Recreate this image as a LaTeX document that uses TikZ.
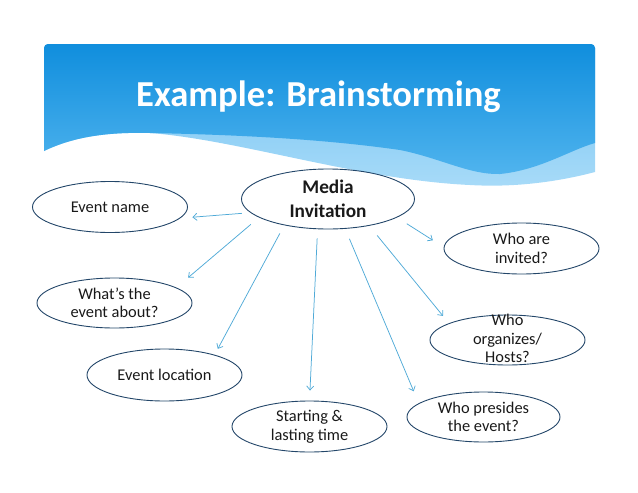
\documentclass[tikz,border=0pt]{standalone}
\usepackage{fontspec}
\setmainfont{Carlito}
\usetikzlibrary{arrows.meta, shapes.geometric}

\definecolor{rimblue}{RGB}{35,70,105}
\definecolor{linkblue}{RGB}{80,170,215}
\definecolor{bandtop}{RGB}{16,142,221}
\definecolor{bandbot}{RGB}{80,180,238}
\definecolor{paletop}{RGB}{110,192,242}
\definecolor{palebot}{RGB}{168,219,248}

\begin{document}
\begin{tikzpicture}[
    x=1pt, y=-1pt,
    bubble/.style={draw=rimblue, line width=0.9pt, ellipse, inner sep=0pt,
                   minimum width=155pt, minimum height=51pt, align=center,
                   text=black!90, font=\fontsize{16.4}{18.5}\selectfont},
    hub/.style={bubble, minimum width=173pt, minimum height=60pt,
                font=\fontsize{19.3}{24}\selectfont\bfseries},
    arr/.style={-{Straight Barb[length=4pt, width=7pt]}, line width=0.75pt, color=linkblue},
    heading/.style={text=white, anchor=base, font=\fontsize{36.6}{44}\selectfont\bfseries},
]
\useasboundingbox (0,0) rectangle (638,493);

% Banner with wave
\shade[top color=paletop, bottom color=palebot] (44,151) .. controls (75,136) and (110,132) .. (150,133)
    .. controls (240,140) and (360,180) .. (470,185)
    .. controls (520,188) and (565,180) .. (595,172)
    [rounded corners=4pt] -- (595,44) -- (44,44) [sharp corners] -- cycle;
\shade[top color=bandtop, bottom color=bandbot] (44,151) .. controls (75,136) and (110,132) .. (150,133)
    .. controls (250,135) and (330,140) .. (400,150)
    .. controls (440,158) and (470,175) .. (500,174)
    .. controls (540,170) and (570,150) .. (595,143)
    [rounded corners=4pt] -- (595,44) -- (44,44) [sharp corners] -- cycle;
\node[heading] (title) at (318.5,106.5) {Example: Brainstorming};

% Centre
\node[hub] (media) at (328,199) {Media\\Invitation};

% Left side
\node[bubble] (ename) at (110,207) {Event name};
\node[bubble, minimum height=50pt] (about) at (114.5,303) {What’s the\\event about?};
\node[bubble, minimum height=52pt] (place) at (164.5,375) {Event location};
\node[bubble] (timing) at (309.5,426.5) {Starting \&\\lasting time};

% Right side
\node[bubble] (invited) at (521.5,248.5) {Who are\\invited?};
\node[bubble, minimum height=50pt] (hosts) at (507.5,340) {\raisebox{-5pt}[0pt][0pt]{\begin{tabular}{@{}c@{}}Who\\organizes/\\Hosts?\end{tabular}}};
\node[bubble, minimum width=153pt, minimum height=50pt] (presides) at (483.5,417) {Who presides\\the event?};

% Links
\draw[arr, shorten <=8.5pt, shorten >=12pt] (media.190) -- (ename.351);
\draw[arr, shorten <=10.6pt, shorten >=15.3pt] (media.195) -- (about.14);
\draw[arr, shorten <=9.2pt, shorten >=6.7pt] (media.211) -- (place.22);
\draw[arr, shorten <=9.2pt, shorten >=10pt] (media.251) -- (timing.90);
\draw[arr, shorten <=10.8pt, shorten >=13pt] (media.300) -- (presides.168);
\draw[arr, shorten <=12.4pt, shorten >=9.4pt] (media.327) -- (hosts.164);
\draw[arr, shorten <=11.6pt, shorten >=12.8pt] (media.345) -- (invited.179);

\end{tikzpicture}
\end{document}
